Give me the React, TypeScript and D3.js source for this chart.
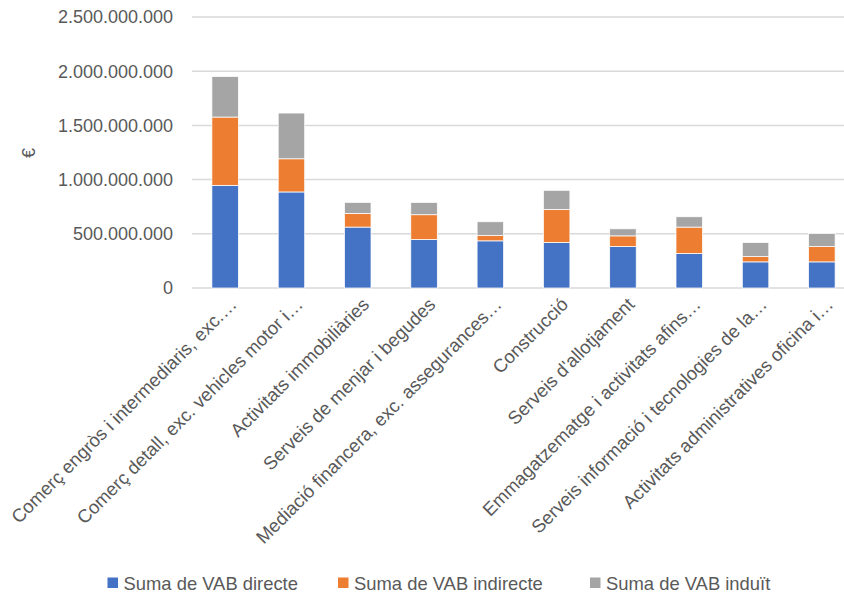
import React from "react";
import * as d3 from "d3";

const categories = [
  "Comerç engròs i intermediaris, exc.…",
  "Comerç detall, exc. vehicles motor i…",
  "Activitats immobiliàries",
  "Serveis de menjar i begudes",
  "Mediació financera, exc. assegurances…",
  "Construcció",
  "Serveis d'allotjament",
  "Emmagatzematge i activitats afins…",
  "Serveis informació i tecnologies de la…",
  "Activitats administratives oficina i…",
];

// values in millions of €
const directe = [947, 886, 562, 447, 435, 419, 382, 318, 241, 241];
const indirecte = [630, 306, 126, 229, 49, 306, 99, 244, 49, 141];
const induit = [374, 422, 102, 114, 127, 176, 65, 95, 129, 121];

const seriesNames = ["Suma de VAB directe", "Suma de VAB indirecte", "Suma de VAB induït"];
const seriesColors = ["#4472C4", "#ED7D31", "#A5A5A5"];
const yTicks = [0, 500, 1000, 1500, 2000, 2500];

const W = 844;
const H = 594;
const FONT = "'Liberation Sans', Arial, sans-serif";
const TEXT = "#595959";

export default function App() {
  const x = d3
    .scaleBand<string>()
    .domain(categories)
    .range([192, 855])
    .paddingInner(0.6)
    .paddingOuter(0.3);
  const y = d3.scaleLinear().domain([0, 2500]).range([288, 17]);

  const rows = categories.map((c, i) => ({
    cat: c,
    directe: directe[i],
    indirecte: indirecte[i],
    induit: induit[i],
  }));
  const stack = d3.stack<any>().keys(["directe", "indirecte", "induit"]);
  const layers = stack(rows);
  const fmt = (v: number) => d3.format(",")(v * 1e6).replace(/,/g, ".");

  const legendX = [107.5, 338, 590];

  return (
    <svg
      width={W}
      height={H}
      style={{ position: "absolute", left: 0, top: 0, background: "#fff" }}
      fontFamily={FONT}
    >
      <rect x={0} y={0} width={W} height={H} fill="#fff" />
      {yTicks.map((t) => (
        <g key={t}>
          <line x1={192} x2={W} y1={y(t)} y2={y(t)} stroke="#d9d9d9" strokeWidth={1.5} />
          <text x={173} y={y(t)} dy="0.35em" textAnchor="end" fontSize={18} fill={TEXT}>
            {t === 0 ? "0" : fmt(t)}
          </text>
        </g>
      ))}
      <text transform={`translate(35,153) rotate(-90)`} textAnchor="middle" fontSize={18} fill={TEXT}>
        €
      </text>
      {layers.map((layer, li) => (
        <g key={li} fill={seriesColors[li]}>
          {layer.map((d: any, i: number) => (
            <rect
              key={i}
              x={x(categories[i])}
              width={x.bandwidth()}
              y={y(d[1])}
              height={y(d[0]) - y(d[1])}
              stroke="#fff"
              strokeWidth={0.75}
            />
          ))}
        </g>
      ))}
      {categories.map((c) => {
        const cx = (x(c) as number) + x.bandwidth() / 2 + 8;
        return (
          <text
            key={c}
            transform={`translate(${cx},301) rotate(-45)`}
            textAnchor="end"
            dy="0.35em"
            fontSize={18.5}
            fill={TEXT}
          >
            {c}
          </text>
        );
      })}
      {seriesNames.map((s, i) => (
        <g key={s}>
          <rect x={legendX[i]} y={577.5} width={10.5} height={10.5} fill={seriesColors[i]} />
          <text x={legendX[i] + 16} y={583} dy="0.36em" fontSize={18.4} fill={TEXT}>
            {s}
          </text>
        </g>
      ))}
    </svg>
  );
}
